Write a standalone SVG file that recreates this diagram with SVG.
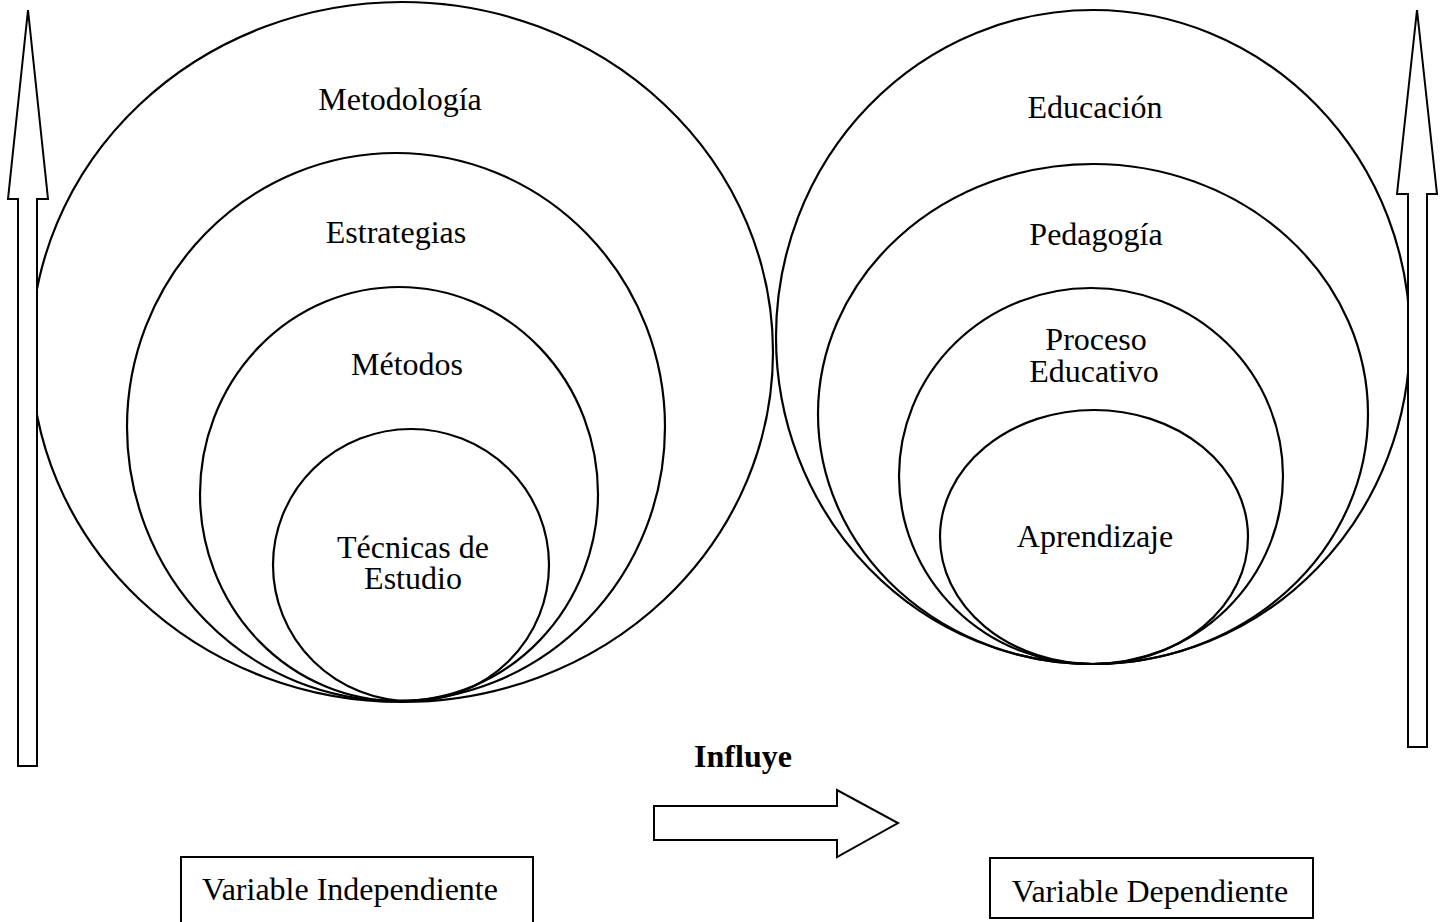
<svg xmlns="http://www.w3.org/2000/svg" width="1440" height="922" viewBox="0 0 1440 922">
<style>
.c{fill:none;stroke:#000;stroke-width:2.2}
.a{fill:#fff;stroke:#000;stroke-width:2;stroke-linejoin:miter}
.t{font-family:"Liberation Serif","Times New Roman",serif;font-size:32px;fill:#000;text-anchor:middle}
.b{font-weight:bold}
.box{fill:#fff;stroke:#000;stroke-width:2}
</style>
<rect width="1440" height="922" fill="#fff"/>
<g id="left-circles">
<g id="metodologia"><ellipse class="c" cx="402" cy="352" rx="371" ry="350"/><text class="t" x="400" y="110">Metodología</text></g>
<g id="estrategias"><ellipse class="c" cx="396" cy="427" rx="269" ry="274"/><text class="t" x="396" y="243">Estrategias</text></g>
<g id="metodos"><ellipse class="c" cx="399" cy="494" rx="199" ry="207"/><text class="t" x="407" y="375">Métodos</text></g>
<g id="tecnicas"><ellipse class="c" cx="411" cy="565" rx="138" ry="136"/><text class="t" x="413" y="558">Técnicas de<tspan x="413" dy="31">Estudio</tspan></text></g>
</g>
<g id="right-circles">
<g id="educacion"><ellipse class="c" cx="1093" cy="337" rx="317" ry="327"/><text class="t" x="1095" y="118">Educación</text></g>
<g id="pedagogia"><ellipse class="c" cx="1093" cy="414" rx="275" ry="250"/><text class="t" x="1096" y="245">Pedagogía</text></g>
<g id="proceso"><ellipse class="c" cx="1091" cy="476" rx="192" ry="188"/><text class="t" x="1096" y="350">Proceso<tspan x="1094" dy="32">Educativo</tspan></text></g>
<g id="aprendizaje"><ellipse class="c" cx="1094" cy="537" rx="154" ry="127"/><text class="t" x="1095" y="547">Aprendizaje</text></g>
</g>
<g id="connectors">
<polygon id="arrow-left" class="a" points="28,10 48,199 37,199 37,766 18,766 18,199 8,199"/>
<polygon id="arrow-right" class="a" points="1417,10 1437,194 1427,194 1427,747 1408,747 1408,194 1397,194"/>
<polygon id="arrow-influye" class="a" points="654,806 837,806 837,790 898,823 837,857 837,840 654,840"/>
</g>
<g id="influye"><text class="t b" x="743" y="767">Influye</text></g>
<g id="var-independiente"><rect class="box" x="181" y="857" width="352" height="80"/><text class="t" x="350" y="900">Variable Independiente</text></g>
<g id="var-dependiente"><rect class="box" x="990" y="858" width="323" height="60"/><text class="t" x="1150" y="902">Variable Dependiente</text></g>
</svg>
